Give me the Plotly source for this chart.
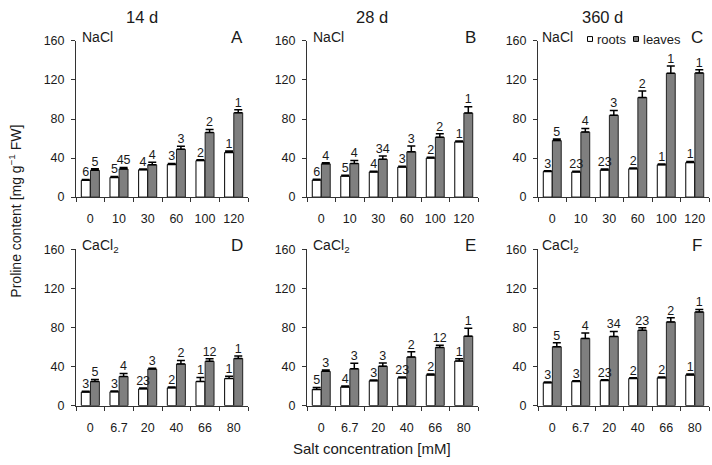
import plotly.graph_objects as go

# ---------------- data ----------------
nacl_ticks = ["0", "10", "30", "60", "100", "120"]
cacl_ticks = ["0", "6.7", "20", "40", "66", "80"]

A_roots = [17.2, 20.2, 28.1, 33.4, 37.4, 45.7]
A_roots_err = [0.8, 0.8, 0.8, 1.0, 0.8, 1.5]
A_leaves = [27.5, 28.8, 33.1, 49.0, 66.2, 86.4]
A_leaves_err = [1.5, 1.5, 2.5, 3.0, 3.0, 3.0]
A_roots_lbl = ["6", "5", "4", "3", "2", "1"]
A_leaves_lbl = ["5", "45", "4", "3", "2", "1"]

B_roots = [17.5, 21.5, 25.8, 30.8, 40.0, 56.6]
B_roots_err = [0.8, 0.8, 0.8, 0.8, 0.8, 0.8]
B_leaves = [34.1, 34.4, 38.7, 46.4, 61.3, 86.1]
B_leaves_err = [1.0, 3.0, 3.5, 6.0, 3.6, 6.6]
B_roots_lbl = ["6", "5", "4", "3", "2", "1"]
B_leaves_lbl = ["4", "4", "34", "3", "2", "1"]

C_roots = [26.2, 25.8, 27.8, 29.1, 33.1, 35.4]
C_roots_err = [0.8, 0.8, 1.0, 0.8, 0.8, 1.0]
C_leaves = [57.9, 66.6, 83.8, 102.0, 126.8, 127.2]
C_leaves_err = [1.7, 3.6, 5.0, 6.6, 7.6, 3.3]
C_roots_lbl = ["3", "23", "23", "2", "1", "1"]
C_leaves_lbl = ["5", "4", "3", "2", "1", "1"]

D_roots = [13.9, 14.2, 17.2, 18.2, 24.8, 27.8]
D_roots_err = [0.8, 0.8, 0.8, 0.8, 4.0, 2.3]
D_leaves = [24.8, 29.8, 37.4, 42.7, 45.4, 48.3]
D_leaves_err = [2.0, 3.0, 1.0, 3.6, 2.6, 2.6]
D_roots_lbl = ["3", "3", "23", "2", "1", "1"]
D_leaves_lbl = ["5", "4", "3", "2", "12", "1"]

E_roots = [16.6, 19.2, 25.5, 28.5, 31.5, 45.7]
E_roots_err = [2.0, 0.8, 0.8, 0.8, 0.8, 2.3]
E_leaves = [35.1, 37.7, 40.4, 49.7, 59.6, 71.2]
E_leaves_err = [1.5, 5.6, 3.3, 5.6, 2.3, 8.0]
E_roots_lbl = ["5", "4", "3", "23", "2", "1"]
E_leaves_lbl = ["3", "3", "3", "2", "12", "1"]

F_roots = [23.5, 24.8, 25.8, 27.8, 28.5, 31.5]
F_roots_err = [0.8, 0.8, 0.8, 0.8, 0.8, 0.8]
F_leaves = [60.3, 68.9, 70.9, 77.2, 85.8, 96.0]
F_leaves_err = [4.0, 5.6, 5.0, 2.6, 4.3, 2.6]
F_roots_lbl = ["3", "3", "23", "2", "2", "1"]
F_leaves_lbl = ["5", "4", "34", "23", "2", "1"]

col_titles = ["14 d", "28 d", "360 d"]
panel_letters = ["A", "B", "C", "D", "E", "F"]
salt_names = ["NaCl", "CaCl<sub>2</sub>"]
series_names = ["roots", "leaves"]

# ---------------- layout geometry ----------------
W, H = 712, 465
FONT = "Liberation Sans, Arial, sans-serif"
TXT = "#1a1a1a"
GRAY = "#7f7f7f"

x_px = [(76, 248), (307, 478), (538, 709)]
y_px = [(35, 196), (250, 411)]

panels = [
    (A_roots, A_roots_err, A_leaves, A_leaves_err, A_roots_lbl, A_leaves_lbl, nacl_ticks),
    (B_roots, B_roots_err, B_leaves, B_leaves_err, B_roots_lbl, B_leaves_lbl, nacl_ticks),
    (C_roots, C_roots_err, C_leaves, C_leaves_err, C_roots_lbl, C_leaves_lbl, nacl_ticks),
    (D_roots, D_roots_err, D_leaves, D_leaves_err, D_roots_lbl, D_leaves_lbl, cacl_ticks),
    (E_roots, E_roots_err, E_leaves, E_leaves_err, E_roots_lbl, E_leaves_lbl, cacl_ticks),
    (F_roots, F_roots_err, F_leaves, F_leaves_err, F_roots_lbl, F_leaves_lbl, cacl_ticks),
]

fig = go.Figure()
layout = dict(
    width=W, height=H,
    margin=dict(l=0, r=0, t=0, b=0),
    paper_bgcolor="white", plot_bgcolor="white",
    showlegend=False,
    font=dict(family=FONT, size=12, color=TXT),
    barmode="overlay",
)

OFF = 0.16
BW = 0.31
annotations = []
shapes = []

for k, (r, re, l, le, rl, ll, ticks) in enumerate(panels):
    row, col = divmod(k, 3)
    ax = "" if k == 0 else str(k + 1)
    xref, yref = "x" + ax, "y" + ax
    idx = list(range(len(ticks)))
    xr = [i - OFF for i in idx]
    xl = [i + OFF for i in idx]

    fig.add_trace(go.Bar(
        x=xr, y=r, width=BW, name=series_names[0], xaxis=xref, yaxis=yref,
        marker=dict(color="white", line=dict(color="black", width=1)),
        error_y=dict(type="data", array=re, arrayminus=[0] * len(re), symmetric=False,
                     color="black", thickness=1.5, width=4),
    ))
    fig.add_trace(go.Bar(
        x=xl, y=l, width=BW, name=series_names[1], xaxis=xref, yaxis=yref,
        marker=dict(color=GRAY, line=dict(color="#222222", width=1)),
        error_y=dict(type="data", array=le, arrayminus=[0] * len(le), symmetric=False,
                     color="black", thickness=1.5, width=4),
    ))
    # significance labels above the error bars
    fig.add_trace(go.Scatter(
        x=xr + xl, y=[a + b for a, b in zip(r, re)] + [a + b for a, b in zip(l, le)],
        text=rl + ll, mode="text", textposition="top center",
        textfont=dict(family=FONT, size=12.5, color=TXT),
        xaxis=xref, yaxis=yref, hoverinfo="skip", cliponaxis=False,
    ))

    x0, x1 = x_px[col]
    yt, yb = y_px[row]
    layout["xaxis" + ax] = dict(
        domain=[x0 / W, x1 / W], anchor=yref, range=[-0.5, len(ticks) - 0.5],
        tickmode="array", tickvals=idx, ticktext=ticks, ticks="",
        ticklabelstandoff=10,
        minor=dict(tick0=-0.5, dtick=1, ticks="outside", ticklen=4, tickcolor="#333333",
                   tickwidth=1, showgrid=False),
        showline=True, linecolor="#333333", linewidth=1, showgrid=False, zeroline=False,
        tickfont=dict(family=FONT, size=12.5, color=TXT), fixedrange=True,
    )
    layout["yaxis" + ax] = dict(
        domain=[1 - yb / H, 1 - yt / H], anchor=xref, range=[0, 160],
        tickmode="array", tickvals=[0, 40, 80, 120, 160], ticks="outside", ticklen=4,
        tickcolor="#333333", ticklabelstandoff=4,
        showline=True, linecolor="#333333", linewidth=1, showgrid=False, zeroline=False,
        tickfont=dict(family=FONT, size=12.5, color=TXT), fixedrange=True,
    )

    # panel letter
    letter_x = [237, 470, 697][col]
    annotations.append(dict(
        text=panel_letters[k], x=letter_x / W, y=1 - (yt - 4) / H, xref="paper", yref="paper",
        xanchor="center", yanchor="middle", showarrow=False,
        font=dict(family=FONT, size=17, color=TXT)))
    # salt name
    salt_x = [80, 311, 540][col]
    annotations.append(dict(
        text=salt_names[row], x=salt_x / W, y=1 - (yt - 4) / H, xref="paper", yref="paper",
        xanchor="left", yanchor="middle", showarrow=False,
        font=dict(family=FONT, size=14, color=TXT)))

# column titles
for c, t in enumerate(col_titles):
    annotations.append(dict(
        text=t, x=[142, 372, 602][c] / W, y=1 - 10 / H, xref="paper", yref="paper",
        xanchor="center", yanchor="middle", showarrow=False,
        font=dict(family=FONT, size=16.5, color=TXT)))

# axis titles
annotations.append(dict(
    text="Salt concentration [mM]", x=372 / W, y=1 - 455 / H, xref="paper", yref="paper",
    xanchor="center", yanchor="middle", showarrow=False,
    font=dict(family=FONT, size=15, color=TXT)))
annotations.append(dict(
    text="Proline content [mg g<sup>−1</sup> FW]", x=15 / W, y=1 - 211 / H,
    xref="paper", yref="paper", xanchor="center", yanchor="middle", textangle=-90,
    showarrow=False, font=dict(family=FONT, size=14, color=TXT)))

# legend (in panel C)
leg_y = 33
for sx, tx, name, fill in [(590, 595, series_names[0], "white"), (636, 641, series_names[1], GRAY)]:
    shapes.append(dict(type="rect", xref="paper", yref="paper",
                       x0=(sx - 2.5) / W, x1=(sx + 2.5) / W,
                       y0=1 - (leg_y + 2.5) / H, y1=1 - (leg_y - 2.5) / H,
                       line=dict(color="black", width=1), fillcolor=fill))
    annotations.append(dict(
        text=name, x=tx / W, y=1 - leg_y / H, xref="paper", yref="paper",
        xanchor="left", yanchor="middle", showarrow=False,
        font=dict(family=FONT, size=13, color=TXT)))

layout["annotations"] = annotations
layout["shapes"] = shapes
fig.update_layout(**layout)
fig.write_html(
    "out.html",
    config={"displayModeBar": False, "staticPlot": True},
    post_script="document.body.style.margin='0';document.body.style.overflow='hidden';",
)
